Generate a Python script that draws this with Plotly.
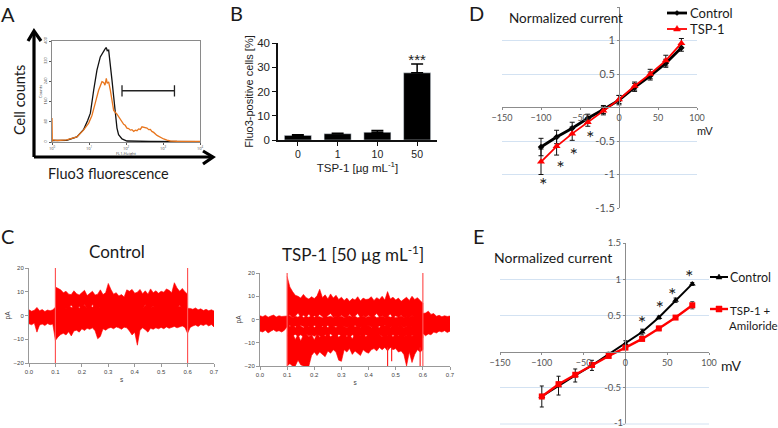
import plotly.graph_objects as go

W, H = 778, 428
SANS = "Lato"
ARIAL = "Liberation Sans"

# ---------- Panel A ----------
a_black_x = [1, 2.5, 4.7, 7.2, 9.2, 10.9, 13.4, 16.4, 20.2, 24.9, 27, 29.4, 31, 34, 37.7, 41.8, 46.4, 51.5, 57, 63, 78, 106, 457, 10000]
a_black_y = [6, 7, 20, 50, 85, 114, 206, 285, 337, 364, 368, 374, 362, 364, 311, 245, 180, 114, 55, 29, 12, 4, 2, 1]
a_orange_x = [1, 1, 1.02, 1.4, 2.5, 4.7, 7.2, 9.8, 12, 14.8, 18.2, 22.4, 24.9, 27, 29.4, 31, 34, 37.7, 41.8, 46.4, 57, 70, 78, 86.5, 95, 106, 118, 131, 145, 161, 180, 198, 220, 244, 270, 300, 335, 370, 410, 455, 500, 560, 689, 847, 1042, 1283, 1578, 2390, 4450, 10000]
a_orange_y = [0, 95, 8, 6, 8, 20, 48, 75, 105, 155, 205, 239, 236, 225, 252, 232, 238, 205, 165, 125, 110, 90, 82, 70, 66, 55, 53, 47, 49, 42, 47, 45, 52, 50, 60, 58, 54, 55, 49, 50, 42, 38, 26, 18, 12, 7, 4, 3, 2, 2]
a_gate_x = [78, 78, 78, 2040, 2040, 2040]
a_gate_y = [225, 180, 203, 203, 225, 180]
a_xticks = [1, 10, 100, 1000, 10000]
a_xlabels = ["10<sup>0</sup>", "10<sup>1</sup>", "10<sup>2</sup>", "10<sup>3</sup>", "10<sup>4</sup>"]
a_yticks = [0, 80, 160, 240, 320, 400]

# ---------- Panel B ----------
b_cats = ["0", "1", "10", "50"]
b_vals = [1.9, 2.6, 3.2, 27.7]
b_errs = [0.3, 0.2, 0.7, 3.6]
b_yticks = [0, 10, 20, 30, 40]

# ---------- Panel C ----------
times = [0.00, 0.01, 0.02, 0.03, 0.04, 0.05, 0.06, 0.07, 0.08, 0.09,
         0.10, 0.11, 0.12, 0.13, 0.14, 0.15, 0.16, 0.17, 0.18, 0.19,
         0.20, 0.21, 0.22, 0.23, 0.24, 0.25, 0.26, 0.27, 0.28, 0.29,
         0.30, 0.31, 0.32, 0.33, 0.34, 0.35, 0.36, 0.37, 0.38, 0.39,
         0.40, 0.41, 0.42, 0.43, 0.44, 0.45, 0.46, 0.47, 0.48, 0.49,
         0.50, 0.51, 0.52, 0.53, 0.54, 0.55, 0.56, 0.57, 0.58, 0.59,
         0.60, 0.61, 0.62, 0.63, 0.64, 0.65, 0.66, 0.67, 0.68, 0.69, 0.70]
c_ctrl_base_top = [2.4, 1.8, 2.2, 3.4, 2.0, 2.5, 1.7, 2.3, 2.0, 2.4,
                   3.5, 4.0, 3.2, 3.8, 3.0, 4.2, 3.4, 3.6, 4.4, 3.1,
                   3.8, 4.3, 3.3, 3.9, 3.5, 4.6, 3.2, 3.8, 4.1, 3.4,
                   5.0, 4.6, 3.7, 4.2, 3.4, 3.9, 4.4, 3.6, 3.2, 4.8,
                   3.4, 4.0, 3.5, 3.1, 4.2, 3.6, 3.2, 3.9, 3.3, 4.1,
                   3.6, 4.4, 3.4, 3.8, 3.2, 4.6, 3.5, 3.9, 3.3, 4.0,
                   3.0, 3.0, 2.6, 3.2, 2.4, 2.8, 2.1, 2.6, 2.0, 2.4, 1.9]
c_ctrl_bottom = [-3.5, -3.9, -3.2, -7.0, -4.0, -3.6, -4.2, -3.4, -3.9, -3.6,
                 -10.5, -9.0, -8.0, -7.5, -8.2, -6.8, -8.6, -6.5, -6.2, -7.0,
                 -5.6, -6.3, -5.4, -5.8, -5.2, -6.4, -9.8, -8.8, -5.6, -6.2,
                 -5.4, -5.0, -5.6, -4.8, -5.2, -5.8, -4.9, -5.2, -6.5, -8.2,
                 -7.0, -12.5, -6.2, -5.2, -6.0, -7.0, -5.4, -5.8, -5.2, -5.6,
                 -5.0, -5.6, -4.8, -5.4, -5.0, -4.6, -5.2, -4.8, -4.4, -5.0,
                 -7.5, -5.0, -4.4, -4.0, -4.6, -3.8, -4.2, -3.6, -4.4, -3.8, -4.8]
c_ctrl_up_high = [12.0, 11.5, 10.8, 9.6, 10.2, 9.0, 8.8, 10.4, 9.2, 8.6,
                  9.8, 10.6, 8.4, 9.4, 10.2, 8.6, 9.0, 10.8, 8.8, 9.6,
                  13.5, 11.0, 9.0, 9.6, 8.2, 8.8, 7.8, 10.8, 10.2, 11.0,
                  9.4, 9.8, 11.0, 9.2, 10.4, 9.0, 11.2, 9.6, 10.4, 9.4,
                  10.2, 9.8, 11.2, 10.6, 9.6, 13.8, 11.6, 10.2, 11.4, 10.0, 9.0]
c_ctrl_up_low = [2.5, 3.2, 2.8, 3.4, 2.6, 3.4, 4.3, 3.0, 2.8, 3.8,
                 2.6, 4.6, 2.8, 2.6, 4.6, 3.2, 2.6, 3.6, 2.8, 2.6,
                 2.6, 2.8, 3.2, 2.8, 2.6, 3.6, 3.0, 3.2, 2.6, 2.6,
                 3.2, 2.6, 2.8, 2.6, 4.5, 2.6, 2.8, 4.0, 2.6, 2.8,
                 2.6, 3.6, 2.6, 2.8, 3.2, 2.6, 2.8, 4.4, 2.6, 2.8, 2.6]

c_tsp_top_high = [18.5, 14.0, 12.0, 10.4, 10.0, 9.2, 10.8, 9.4, 8.8, 9.8,
                  9.0, 10.2, 13.0, 9.4, 10.6, 8.8, 11.0, 9.2, 10.4, 8.6,
                  9.6, 8.2, 9.2, 7.8, 9.0, 8.4, 9.8, 8.0, 9.2, 8.6,
                  8.8, 9.8, 8.2, 9.4, 8.6, 10.0, 8.4, 12.0, 8.8, 9.6,
                  8.4, 9.2, 7.8, 8.8, 9.6, 8.2, 10.0, 8.6, 9.4, 8.2, 7.0]
c_tsp_top_low = [1.0, 2.0, 0.8, 1.4, 2.8, 1.0, 1.8, 1.0, 2.4, 0.8,
                 1.6, 1.0, 2.2, 1.2, 0.8, 1.8, 2.6, 1.0, 1.4, 0.8,
                 1.8, 1.0, 0.8, 2.4, 1.0, 1.4, 2.6, 0.8, 1.6, 1.0,
                 1.8, 0.8, 1.4, 2.6, 1.0, 1.6, 0.8, 1.2, 2.4, 0.8,
                 1.6, 1.0, 1.8, 0.8, 1.2, 0.8, 1.6, 0.8, 0.6, 1.0, 0.8]
c_tsp_mid_top = [1.6, 1.2, 1.8, 1.0, 1.5, 1.9, 1.1, 1.6, 1.3, 1.4,
                 1.2, 1.6, 0.8, 1.4, 1.0, 1.8, 0.9, 1.3, 1.0, 1.6,
                 1.0, 1.4, 1.2, 0.8, 1.6, 1.1, 1.4, 0.9, 1.5, 1.0,
                 1.4, 0.8, 1.2, 1.6, 1.0, 1.4, 0.7, 1.2, 1.5, 0.9,
                 1.3, 1.0, 1.6, 0.8, 1.2, 1.4, 0.9, 1.5, 1.0, 1.3,
                 0.8, 1.2, 1.5, 0.9, 1.4, 1.0, 1.6, 1.1, 1.8, 2.4,
                 2.6, 2.8, 3.6, 2.2, 2.6, 1.4, 1.8, 1.2, 1.6, 1.3, 1.5]
c_tsp_mid_bot = [-5.0, -5.4, -4.6, -5.8, -5.0, -4.4, -5.2, -4.8, -5.4, -4.6,
                 -3.0, -2.6, -3.2, -2.8, -3.4, -2.6, -3.0, -3.4, -2.8, -3.2,
                 -2.6, -3.0, -3.4, -2.8, -3.2, -2.6, -3.4, -3.0, -2.8, -3.2,
                 -2.6, -3.0, -3.4, -2.8, -3.2, -2.6, -3.0, -3.4, -2.8, -3.0,
                 -2.6, -3.2, -3.0, -3.4, -2.8, -3.2, -2.6, -3.0, -3.4, -2.8,
                 -3.0, -3.2, -2.6, -3.4, -3.0, -2.8, -3.2, -3.0, -3.4, -3.6,
                 -6.0, -7.0, -6.2, -6.6, -5.4, -5.8, -5.0, -5.4, -4.8, -5.6, -5.0]
c_tsp_low1_top = [-2.2, -3.0, -2.4, -3.4, -2.2, -2.8, -3.6, -2.4, -3.0, -2.2,
                  -3.4, -2.6, -2.2, -3.2, -2.4, -3.6, -2.2, -2.8, -3.4, -2.4,
                  -2.2, -3.0, -3.6, -2.4, -2.0, -3.2, -2.6, -3.4, -2.2, -2.8,
                  -2.4, -3.4, -2.2, -3.0, -3.6, -2.4, -2.8, -2.2, -3.4, -2.6,
                  -2.4, -3.0, -2.2, -3.4, -2.8, -2.4, -3.0, -2.2, -2.8, -2.4, -2.6]
c_tsp_low1_bot = [-7.0, -7.6, -7.0, -6.4, -7.2, -6.6, -7.4, -6.2, -7.0, -6.6,
                  -7.2, -6.4, -7.0, -7.6, -6.6, -7.2, -6.2, -7.0, -7.6, -6.4,
                  -7.0, -7.4, -6.8, -7.6, -6.6, -7.2, -7.8, -6.8, -7.4, -6.6,
                  -7.0, -7.6, -6.8, -7.4, -6.6, -7.2, -7.8, -6.8, -7.2, -6.6,
                  -7.4, -6.8, -7.2, -7.6, -6.8, -7.4, -6.8, -7.2, -7.6, -8.0, -8.0]
c_tsp_low2_top = [-6.6, -7.4, -6.0, -8.6, -6.4, -9.2, -6.6, -6.0, -7.4, -6.4,
                  -8.8, -6.0, -7.6, -6.4, -7.2, -6.0, -7.4, -6.6, -6.2, -7.6,
                  -6.6, -6.0, -7.4, -6.4, -8.4, -6.0, -7.4, -6.6, -6.0, -7.4,
                  -6.4, -7.2, -6.0, -7.0, -6.4, -7.4, -6.0, -6.8, -6.2, -7.4,
                  -6.4, -7.0, -6.0, -7.4, -6.6, -6.0, -7.2, -6.4, -6.8, -6.2, -6.8]
c_tsp_low2_bot = [-20.0, -19.0, -20.0, -20.0, -17.5, -19.5, -20.0, -20.0, -20.0, -15.5,
                  -14.0, -15.5, -14.0, -15.0, -16.0, -13.5, -14.5, -13.0, -14.0, -17.5,
                  -18.0, -13.0, -14.0, -12.5, -15.0, -13.5, -14.5, -15.5, -13.0, -14.0,
                  -14.5, -13.0, -12.5, -13.5, -12.0, -13.0, -12.0, -13.5, -12.0, -13.0,
                  -12.5, -14.0, -13.5, -15.0, -20.0, -14.0, -18.5, -15.0, -13.0, -14.0, -13.0]
c_tsp_spike_x = [0.47, 0.47, 0.485, 0.485, 0.59, 0.59]
c_tsp_spike_y = [-12, -20, -12, -18, -12, -20]
c_xticks = [0.0, 0.1, 0.2, 0.3, 0.4, 0.5, 0.6, 0.7]
c_xlabels = ["0.0", "0.1", "0.2", "0.3", "0.4", "0.5", "0.6", "0.7"]
c_yticks = [-20, -10, 0, 10, 20]

# ---------- Panel D ----------
iv_x = [-100, -80, -60, -40, -20, 0, 20, 40, 60, 80]
d_control = [-0.59, -0.44, -0.31, -0.16, -0.03, 0.11, 0.30, 0.47, 0.66, 0.89]
d_control_err = [0.13, 0.10, 0.09, 0.06, 0.06, 0.07, 0.06, 0.06, 0.06, 0.05]
d_tsp = [-0.81, -0.58, -0.39, -0.22, -0.05, 0.12, 0.32, 0.50, 0.70, 0.96]
d_tsp_err = [0.19, 0.13, 0.10, 0.06, 0.06, 0.06, 0.06, 0.07, 0.08, 0.07]
d_star_x = [-97, -75, -58, -37]
d_star_y = [-1.19, -0.93, -0.74, -0.48]
d_xticks = [-150, -100, -50, 0, 50, 100]
d_yticks = [-1.5, -1, -0.5, 0.5, 1, 1.5]
d_ylabels = ["-1.5", "-1", "-0.5", "0.5", "1", "1.5"]

# ---------- Panel E ----------
e_control = [-0.62, -0.47, -0.33, -0.19, -0.04, 0.11, 0.27, 0.47, 0.71, 0.935]
e_control_err = [0.145, 0.13, 0.09, 0.07, 0.03, 0.04, 0.04, 0.02, 0.03, 0.02]
e_tsp = [-0.62, -0.45, -0.32, -0.185, -0.06, 0.055, 0.175, 0.32, 0.47, 0.64]
e_tsp_err = [0.03, 0.03, 0.03, 0.03, 0.02, 0.02, 0.02, 0.03, 0.02, 0.05]
e_star_x = [20, 41, 56, 76.5]
e_star_y = [0.37, 0.58, 0.76, 1.0]
e_yticks = [-1, -0.5, 0.5, 1, 1.5]
e_ylabels = ["-1", "-0.5", "0.5", "1", "1.5"]


def xd(a, b):
    return [a / W, b / W]


def yd(top, bot):
    return [1 - bot / H, 1 - top / H]


def px(x):
    return x / W


def py(y):
    return 1 - y / H


fig = go.Figure()

# ---- A
fig.add_trace(go.Scatter(x=a_black_x, y=a_black_y, mode="lines", line=dict(color="#111111", width=1.3), xaxis="x", yaxis="y", showlegend=False))
fig.add_trace(go.Scatter(x=a_orange_x, y=a_orange_y, mode="lines", line=dict(color="#e8761e", width=1.3), xaxis="x", yaxis="y", showlegend=False))
fig.add_trace(go.Scatter(x=a_gate_x, y=a_gate_y, mode="lines", line=dict(color="#222222", width=1.3), xaxis="x", yaxis="y", showlegend=False))

# ---- B
fig.add_trace(go.Bar(x=b_cats, y=b_vals, marker=dict(color="black"), width=0.68,
                     error_y=dict(type="data", array=b_errs, arrayminus=[0, 0, 0, 0], color="black", thickness=1.5, width=6),
                     xaxis="x2", yaxis="y2", showlegend=False))
fig.add_trace(go.Scatter(x=["50"], y=[32.6], mode="text", text=["***"], textfont=dict(family=ARIAL, size=15, color="#222"),
                         xaxis="x2", yaxis="y2", showlegend=False))


# ---- C
def band(x, high, low, xa, ya, color="#ff0000"):
    fig.add_trace(go.Scatter(x=list(x) + list(x)[::-1], y=list(high) + list(low)[::-1], mode="lines", fill="toself",
                             fillcolor=color, line=dict(color=color, width=0.6), xaxis=xa, yaxis=ya,
                             showlegend=False, hoverinfo="skip"))


mid_times = times[10:61]
band(times, c_ctrl_base_top, c_ctrl_bottom, "x3", "y3")
band(mid_times, c_ctrl_up_high, c_ctrl_up_low, "x3", "y3")
for t in (0.1, 0.6):
    fig.add_trace(go.Scatter(x=[t, t], y=[-20, 20], mode="lines", line=dict(color="#ff5555", width=1.2), xaxis="x3", yaxis="y3", showlegend=False))

band(times, c_tsp_mid_top, c_tsp_mid_bot, "x4", "y4")
band(mid_times, c_tsp_top_high, c_tsp_top_low, "x4", "y4")
band(mid_times, c_tsp_low1_top, c_tsp_low1_bot, "x4", "y4")
band(mid_times, c_tsp_low2_top, c_tsp_low2_bot, "x4", "y4")
for i in (0, 2, 4):
    fig.add_trace(go.Scatter(x=c_tsp_spike_x[i:i + 2], y=c_tsp_spike_y[i:i + 2], mode="lines", line=dict(color="#ff2222", width=1.2), xaxis="x4", yaxis="y4", showlegend=False))
for t in (0.1, 0.6):
    fig.add_trace(go.Scatter(x=[t, t], y=[-20, 20], mode="lines", line=dict(color="#ff5555", width=1.2), xaxis="x4", yaxis="y4", showlegend=False))

# ---- D
fig.add_trace(go.Scatter(x=iv_x, y=d_control, mode="lines+markers", name="Control", showlegend=False,
                         line=dict(color="black", width=2.8), marker=dict(symbol="diamond", size=5, color="black"),
                         error_y=dict(type="data", array=d_control_err, color="#111", thickness=1, width=2.5),
                         xaxis="x5", yaxis="y5"))
fig.add_trace(go.Scatter(x=iv_x, y=d_tsp, mode="lines+markers", name="TSP-1", showlegend=False,
                         line=dict(color="#ff0000", width=1.8), marker=dict(symbol="triangle-up", size=7, color="#ff0000"),
                         error_y=dict(type="data", array=d_tsp_err, color="#111", thickness=1, width=2.5),
                         xaxis="x5", yaxis="y5"))
fig.add_trace(go.Scatter(x=d_star_x, y=d_star_y, mode="text", text=["*"] * len(d_star_x),
                         textfont=dict(family=SANS, size=20, color="#222"), xaxis="x5", yaxis="y5", showlegend=False))

# ---- E
fig.add_trace(go.Scatter(x=iv_x, y=e_control, mode="lines+markers", name="Control", showlegend=False,
                         line=dict(color="black", width=2), marker=dict(symbol="triangle-up", size=6, color="black"),
                         error_y=dict(type="data", array=e_control_err, color="#111", thickness=1, width=2),
                         xaxis="x6", yaxis="y6"))
fig.add_trace(go.Scatter(x=iv_x, y=e_tsp, mode="lines+markers", name="TSP-1 + Amiloride", showlegend=False,
                         line=dict(color="#ff0000", width=2.4), marker=dict(symbol="square", size=6, color="#ff0000"),
                         error_y=dict(type="data", array=e_tsp_err, color="#444", thickness=1, width=2),
                         xaxis="x6", yaxis="y6"))
fig.add_trace(go.Scatter(x=e_star_x, y=e_star_y, mode="text", text=["*"] * len(e_star_x),
                         textfont=dict(family=SANS, size=20, color="#222"), xaxis="x6", yaxis="y6", showlegend=False))

GRID = "#d3e2f2"
AXG = "#8c8c8c"
iv_tick = dict(family=SANS, size=9, color="#555")

layout = dict(
    width=W, height=H, margin=dict(l=0, r=0, t=0, b=0, autoexpand=False), paper_bgcolor="white", plot_bgcolor="rgba(0,0,0,0)",
    hovermode=False, autosize=False,
    # A
    xaxis=dict(domain=xd(52, 200), anchor="y", type="log", range=[0, 4], tickvals=a_xticks, ticktext=a_xlabels,
               tickfont=dict(size=4, color="#444"), ticks="outside", ticklen=2, tickcolor="#555", showline=True, linecolor="#8a8a8a",
               mirror=True, showgrid=False, zeroline=False, title=dict(text="FL1-Height", font=dict(size=4, color="#444"), standoff=1)),
    yaxis=dict(domain=yd(41, 142), anchor="x", range=[0, 400], tickvals=a_yticks, tickfont=dict(size=4, color="#444"), tickangle=-90,
               ticks="outside", ticklen=2, tickcolor="#555", showline=True, linecolor="#8a8a8a", mirror=True, showgrid=False,
               zeroline=False, title=dict(text="Counts", font=dict(size=4, color="#444"), standoff=1)),
    # B
    xaxis2=dict(domain=xd(278, 437), anchor="y2", type="category", range=[-0.5, 3.5], tickfont=dict(family=ARIAL, size=10.5, color="#222"),
                ticks="outside", ticklen=4, tickwidth=1.3, tickcolor="#111", showline=True, linecolor="#111", linewidth=1.5,
                showgrid=False, zeroline=False,
                title=dict(text="TSP-1 [µg mL<sup>-1</sup>]", font=dict(family=ARIAL, size=11.5, color="#222"), standoff=4)),
    yaxis2=dict(domain=yd(43, 140), anchor="x2", range=[0, 40], tickvals=b_yticks, tickfont=dict(family=ARIAL, size=11.5, color="#222"),
                ticks="outside", ticklen=4, tickwidth=1.3, tickcolor="#111", showline=True, linecolor="#111", linewidth=1.5,
                showgrid=False, zeroline=False,
                title=dict(text="Fluo3-positive cells [%]", font=dict(family=ARIAL, size=11, color="#222"), standoff=1)),
    # C control
    xaxis3=dict(domain=xd(29, 214), anchor="y3", range=[0, 0.7], tickvals=c_xticks, ticktext=c_xlabels, tickfont=dict(family=ARIAL, size=6, color="#444"),
                ticks="outside", ticklen=3, tickcolor="#999", showline=True, linecolor="#999", showgrid=False, zeroline=False,
                title=dict(text="s", font=dict(family=ARIAL, size=6.5, color="#444"), standoff=3)),
    yaxis3=dict(domain=yd(268, 363), anchor="x3", range=[-20, 20], tickvals=c_yticks, tickfont=dict(family=ARIAL, size=6, color="#444"),
                ticks="outside", ticklen=3, tickcolor="#999", showline=True, linecolor="#999", showgrid=False, zeroline=False,
                title=dict(text="pA", font=dict(family=ARIAL, size=6.5, color="#444"), standoff=2)),
    # C TSP
    xaxis4=dict(domain=xd(260, 450), anchor="y4", range=[0, 0.7], tickvals=c_xticks, ticktext=c_xlabels, tickfont=dict(family=ARIAL, size=6, color="#444"),
                ticks="outside", ticklen=3, tickcolor="#999", showline=True, linecolor="#999", showgrid=False, zeroline=False,
                title=dict(text="s", font=dict(family=ARIAL, size=6.5, color="#444"), standoff=3)),
    yaxis4=dict(domain=yd(273, 366), anchor="x4", range=[-20, 20], tickvals=c_yticks, tickfont=dict(family=ARIAL, size=6, color="#444"),
                ticks="outside", ticklen=3, tickcolor="#999", showline=True, linecolor="#999", showgrid=False, zeroline=False,
                title=dict(text="pA", font=dict(family=ARIAL, size=6.5, color="#444"), standoff=2)),
    # D
    xaxis5=dict(domain=xd(502, 697), anchor="free", position=py(107), range=[-150, 100], tickvals=d_xticks, tickfont=iv_tick,
                ticks="outside", ticklen=2, tickcolor=AXG, showline=True, linecolor=AXG, showgrid=False, zeroline=False),
    yaxis5=dict(domain=yd(7, 208), anchor="free", position=px(619), range=[-1.5, 1.5], tickvals=d_yticks, ticktext=d_ylabels,
                tickfont=dict(family=SANS, size=11, color="#555"), ticks="outside", ticklen=2, tickcolor=AXG, showline=True, linecolor=AXG,
                showgrid=True, gridcolor=GRID, gridwidth=1, zeroline=False),
    # E
    xaxis6=dict(domain=xd(500, 709), anchor="free", position=py(352), range=[-150, 100], tickvals=d_xticks, tickfont=iv_tick,
                ticks="outside", ticklen=2, tickcolor=AXG, showline=True, linecolor=AXG, showgrid=False, zeroline=False),
    yaxis6=dict(domain=yd(243, 424), anchor="free", position=px(625), range=[-1, 1.5], tickvals=e_yticks, ticktext=e_ylabels,
                tickfont=dict(family=SANS, size=9.5, color="#555"), ticks="outside", ticklen=2, tickcolor=AXG, showline=True, linecolor=AXG,
                showgrid=True, gridcolor=GRID, gridwidth=1, zeroline=False),
)


def label(text, x, y, size, angle=0, family=SANS, color="#1a1a1a", anchor="center"):
    return dict(text=text, x=px(x), y=py(y), xref="paper", yref="paper", showarrow=False, xanchor=anchor, yanchor="middle",
                font=dict(family=family, size=size, color=color), textangle=angle)


layout["annotations"] = [
    label("A", 8, 14, 20), label("B", 236, 13, 20), label("C", 7, 236, 20), label("D", 476, 13, 20), label("E", 479, 236, 20),
    label("Cell counts", 19, 100, 14.5, angle=-90),
    label("Fluo3 fluorescence", 108, 173, 14.5),
    label("Control", 117, 252, 17),
    label("TSP-1 [50 µg mL<sup>-1</sup>]", 353, 253, 17),
    label("Normalized current", 566, 18, 13.5),
    label("Normalized current", 553, 257, 14),
    label("mV", 705, 130, 11),
    label("mV", 731, 365, 14),
    label("Control", 688, 13, 13, anchor="left"),
    label("TSP-1", 688, 29, 13, anchor="left"),
    label("Control", 728, 277, 12.5, anchor="left"),
    label("TSP-1 +", 728, 310, 11.5, anchor="left"),
    label("Amiloride", 727, 325, 11.5, anchor="left"),
    label("-1", 618, 422, 9.5, color="#555"),
]


def path(points, close=False):
    return "M " + " L ".join(f"{px(a)} {py(b)}" for a, b in points) + (" Z" if close else "")


def stroke(points, color, width):
    return dict(type="path", xref="paper", yref="paper", path=path(points), line=dict(color=color, width=width))


def solid(points, color):
    return dict(type="path", xref="paper", yref="paper", path=path(points, True), fillcolor=color, line=dict(color=color, width=0.5))


layout["shapes"] = [
    stroke([(34, 157), (34, 31)], "black", 3.2),
    stroke([(28, 41), (34, 31), (41, 41)], "black", 3.2),
    stroke([(34, 157), (213, 157)], "black", 3.2),
    stroke([(203, 151), (213, 157), (203, 164)], "black", 3.2),
    # hand-drawn legend keys for panels D and E
    stroke([(667, 13), (687, 13)], "black", 2.8),
    solid([(677, 10.5), (679.5, 13), (677, 15.5), (674.5, 13)], "black"),
    stroke([(667, 29), (687, 29)], "#ff0000", 1.8),
    solid([(677, 25.5), (680.5, 31), (673.5, 31)], "#ff0000"),
    stroke([(710, 277), (728, 277)], "black", 2),
    solid([(719, 274), (722, 279), (716, 279)], "black"),
    stroke([(710, 309), (728, 309)], "#ff0000", 2.4),
    solid([(716, 306), (722, 306), (722, 312), (716, 312)], "#ff0000"),
    stroke([(500, 424), (709, 424)], GRID, 1),
]
fig.update_layout(**layout)
fig.write_html("out.html", config={"displayModeBar": False},
               post_script="document.body.style.margin='0';document.body.style.overflow='hidden';")
